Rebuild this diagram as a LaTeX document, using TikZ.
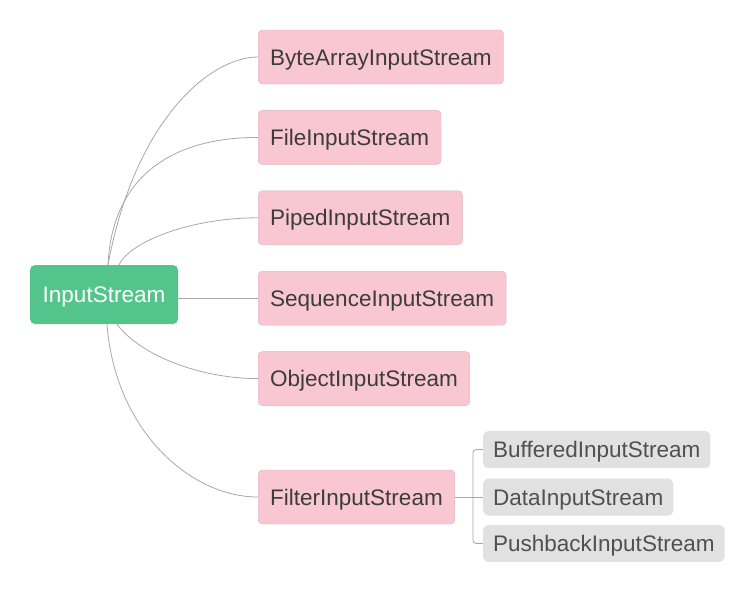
\documentclass[tikz,border=0pt]{standalone}
\usepackage{fontspec}
\setmainfont{Liberation Sans}
\usetikzlibrary{positioning}

\definecolor{rootgreen}{HTML}{52C48C}
\definecolor{subpink}{HTML}{F9C7D2}
\definecolor{subedge}{HTML}{DDB6BF}
\definecolor{leafgray}{HTML}{E1E1E1}
\definecolor{linkgray}{HTML}{A8A8A8}
\definecolor{textgray}{HTML}{3C3C3C}

\begin{document}
\begin{tikzpicture}[x=1pt, y=-1pt, font=\fontsize{22.5}{27}\selectfont,
  root/.style={fill=rootgreen, text=white, rounded corners=5pt, minimum width=148pt, minimum height=59pt, text height=16.2pt, text depth=0pt},
  sub/.style={draw=subedge, fill=subpink, text=textgray, rounded corners=4pt, inner xsep=12pt, minimum height=54pt, text height=16.2pt, text depth=0pt},
  leaf/.style={fill=leafgray, text=textgray!90, rounded corners=5pt, inner xsep=10pt, inner ysep=0pt, minimum height=37pt, text height=16.2pt, text depth=0pt},
  link/.style={draw=linkgray, line width=0.8pt}]

\useasboundingbox (0,0) rectangle (753,590);

% Nodes
\node[root] (root) at (104,294.5) {InputStream};
\node[sub, anchor=west] (byte) at (258,57) {ByteArrayInputStream};
\node[sub, below right=26pt and 0pt of byte.south west] (file) {FileInputStream};
\node[sub, below right=26pt and 0pt of file.south west] (piped) {PipedInputStream};
\node[sub, below right=26pt and 0pt of piped.south west] (seq) {SequenceInputStream};
\node[sub, below right=26pt and 0pt of seq.south west] (object) {ObjectInputStream};
\node[sub, below right=64pt and 0pt of object.south west] (filter) {FilterInputStream};

\node[leaf, right=28pt of filter] (data) {DataInputStream};
\node[leaf, above right=10pt and 0pt of data.north west] (buffered) {BufferedInputStream};
\node[leaf, below right=9pt and 0pt of data.south west] (push) {PushbackInputStream};
\coordinate[right=18pt of filter.east] (fork);

% Links
\draw[link] ([xshift=4pt]root.north) .. controls +(27,-145) and +(-48,0) .. (byte.west);
\draw[link] ([xshift=4pt]root.north) .. controls +(4,-85) and +(-90,0) .. (file.west);
\draw[link] ([xshift=15pt]root.north) .. controls +(11,-23) and +(-68,0) .. (piped.west);
\draw[link] (root.east |- seq.west) -- (seq.west);
\draw[link] ([xshift=13pt]root.south) .. controls +(23,31) and +(-58,0) .. (object.west);
\draw[link] ([xshift=3pt]root.south) .. controls +(8,106) and +(-68,0) .. (filter.west);

\draw[link] (filter.east) -- (data.west);
\draw[link, rounded corners=3pt] (buffered.west) -| (fork) |- (push.west);

\end{tikzpicture}
\end{document}
